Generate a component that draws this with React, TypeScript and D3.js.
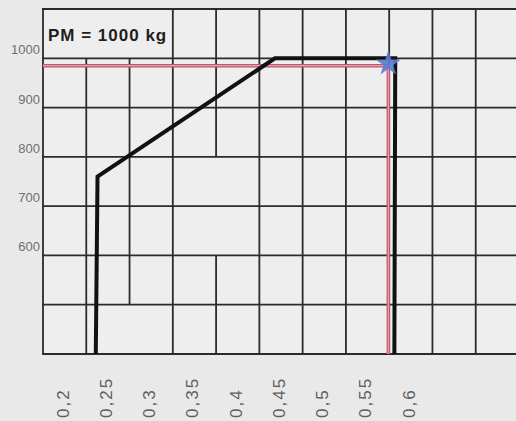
import * as d3 from 'd3';
import React from 'react';

// centrage chart
const massTicks = [1000, 900, 800, 700, 600];
const armTicks = [0.2, 0.25, 0.3, 0.35, 0.4, 0.45, 0.5, 0.55, 0.6];
const armTickLabels = ['0,2', '0,25', '0,3', '0,35', '0,4', '0,45', '0,5', '0,55', '0,6'];
const rowLines = [400, 500, 600, 700, 800, 900, 1000, 1100];

// vertical cell borders: arm value and the mass spans they cover
const colLines: { arm: number; spans: [number, number][] }[] = [
  { arm: 0.175, spans: [[400, 1100]] },
  { arm: 0.225, spans: [[400, 1000]] },
  { arm: 0.275, spans: [[500, 1000]] },
  { arm: 0.325, spans: [[400, 1100]] },
  { arm: 0.375, spans: [[400, 600], [800, 1100]] },
  { arm: 0.425, spans: [[400, 1100]] },
  { arm: 0.475, spans: [[400, 1100]] },
  { arm: 0.525, spans: [[400, 1100]] },
  { arm: 0.575, spans: [[400, 1100]] },
  { arm: 0.625, spans: [[400, 1100]] },
  { arm: 0.675, spans: [[400, 1100]] },
  { arm: 0.725, spans: [[400, 1100]] },
];

// envelope (arm m, mass kg)
const envArm = [0.236, 0.238, 0.443, 0.582, 0.581];
const envMass = [400, 760, 1000, 1000, 400];

// loading point
const cgArm = 0.574;
const cgMass = 985;

const App: React.FC = () => {
  const width = 516;
  const height = 421;

  const x = d3.scaleLinear().domain([0.175, 0.725]).range([43, 519]);
  const y = d3.scaleLinear().domain([400, 1100]).range([354, 9]);

  const env = envArm.map((a, i) => [a, envMass[i]] as [number, number]);
  const envLine = d3.line<[number, number]>()
    .x(d => x(d[0]))
    .y(d => y(d[1]));

  const redPath = `M${x(0.175)},${y(cgMass)}H${x(cgArm)}V${y(400)}`;
  const star = d3.symbol().type(d3.symbolStar).size(200)();

  return (
    <>
      <style>{`body{margin:0;background:#e9e9e9}`}</style>
      <svg width={width} height={height} style={{ display: 'block', fontFamily: '"Liberation Sans", Arial, sans-serif' }}>
        <rect width={width} height={height} fill="#e9e9e9" />
        <rect x={x(0.175)} y={y(1100)} width={x(0.725) - x(0.175)} height={y(400) - y(1100)} fill="#eeeeee" />

        {/* grid */}
        <g stroke="#2b2b2b" strokeWidth={1.8}>
          {rowLines.map(m => (
            <line key={m} x1={x(0.175) - 1} x2={x(0.725)} y1={y(m)} y2={y(m)} />
          ))}
          {colLines.flatMap(c =>
            c.spans.map(([a, b], i) => (
              <line key={`${c.arm}-${i}`} x1={x(c.arm)} x2={x(c.arm)} y1={y(a)} y2={y(b)} />
            ))
          )}
        </g>

        {/* loading lines */}
        <path d={redPath} fill="none" stroke="#c4546e" strokeWidth={3.5} />
        <path d={redPath} fill="none" stroke="#e3a2b1" strokeWidth={1.2} />

        {/* envelope */}
        <path d={envLine(env) ?? ''} fill="none" stroke="#111" strokeWidth={4} strokeLinejoin="miter" />

        <path d={star ?? ''} transform={`translate(${x(cgArm)},${y(cgMass) - 2})`} fill="#5a7dd0" opacity={0.92} />

        <text x={48} y={41} fontSize={17} fontWeight="bold" letterSpacing={1} fill="#1e1e1e">PM = 1000 kg</text>

        {/* axis labels */}
        {massTicks.map(m => (
          <text key={m} x={40} y={y(m) - 4} textAnchor="end" fontSize={13} fill="#6f6f6f">{m}</text>
        ))}
        {armTicks.map((a, i) => (
          <text key={a} transform={`translate(${x(a) - 2},418) rotate(-90)`} dy="0.35em" fontSize={17} letterSpacing={2} fill="#5e5e5e">
            {armTickLabels[i]}
          </text>
        ))}
      </svg>
    </>
  );
};

export default App;
